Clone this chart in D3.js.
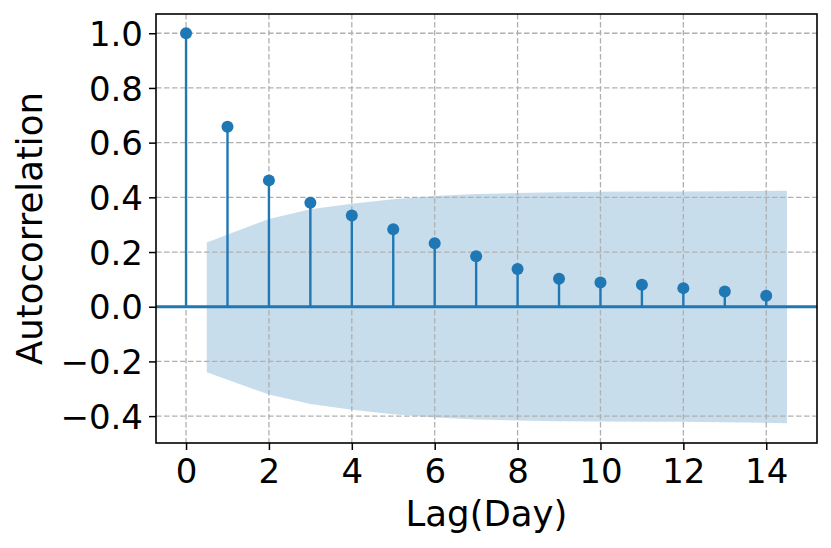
<!DOCTYPE html>
<html>
<head>
<meta charset="utf-8">
<script src="https://cdn.jsdelivr.net/npm/d3@7"></script>
<style>
  html, body { margin: 0; padding: 0; background: #fff; }
  svg { display: block; font-family: "DejaVu Sans", sans-serif; }
</style>
</head>
<body>
<svg id="chart" width="831" height="548"></svg>
<script>
// ---- data ----
const lags = [0, 1, 2, 3, 4, 5, 6, 7, 8, 9, 10, 11, 12, 13, 14];
const acfValues = [1.0, 0.658, 0.462, 0.380, 0.334, 0.283, 0.232, 0.185, 0.138, 0.102, 0.089, 0.080, 0.068, 0.056, 0.040];
// confidence band at band x positions
const bandX = [0.5, 2, 3, 4, 5, 6, 7, 8, 9, 10, 11, 12, 13, 14.5];
const bandUpper = [0.235, 0.321, 0.356, 0.377, 0.393, 0.405, 0.412, 0.416, 0.419, 0.420, 0.421, 0.421, 0.422, 0.424];
const bandLower = [-0.240, -0.321, -0.356, -0.377, -0.393, -0.405, -0.412, -0.416, -0.419, -0.420, -0.421, -0.421, -0.422, -0.426];
const xTicks = [0, 2, 4, 6, 8, 10, 12, 14];
const yTicks = [-0.4, -0.2, 0.0, 0.2, 0.4, 0.6, 0.8, 1.0];
const xLabel = "Lag(Day)";
const yLabel = "Autocorrelation";

// ---- layout ----
const svg = d3.select("#chart");
const L = 156, R = 817, T = 14, B = 443;
const x = d3.scaleLinear().domain([-0.725, 15.225]).range([L, R]);
const y = d3.scaleLinear().domain([-0.4983, 1.0704]).range([B, T]);
const blue = "#1f77b4";

// band
const band = bandX.map((d, i) => ({x: d, lo: bandLower[i], hi: bandUpper[i]}));
svg.append("path")
  .datum(band)
  .attr("fill", blue)
  .attr("fill-opacity", 0.25)
  .attr("d", d3.area().x(d => x(d.x)).y0(d => y(d.lo)).y1(d => y(d.hi)));

// grid
const grid = svg.append("g").attr("stroke", "#b0b0b0").attr("stroke-width", 1.3).attr("stroke-dasharray", "5.5,2.5");
grid.selectAll(".gx").data(xTicks).join("line")
  .attr("x1", d => x(d)).attr("x2", d => x(d)).attr("y1", T).attr("y2", B);
grid.selectAll(".gy").data(yTicks).join("line")
  .attr("x1", L).attr("x2", R).attr("y1", d => y(d)).attr("y2", d => y(d));

// stems
const data = lags.map((l, i) => ({l, v: acfValues[i]}));
svg.append("g").selectAll("line").data(data).join("line")
  .attr("x1", d => x(d.l)).attr("x2", d => x(d.l))
  .attr("y1", y(0)).attr("y2", d => y(d.v))
  .attr("stroke", blue).attr("stroke-width", 2.4);

// zero line
svg.append("line")
  .attr("x1", L).attr("x2", R).attr("y1", y(0)).attr("y2", y(0))
  .attr("stroke", blue).attr("stroke-width", 3);

// markers
svg.append("g").selectAll("circle").data(data).join("circle")
  .attr("cx", d => x(d.l)).attr("cy", d => y(d.v)).attr("r", 6)
  .attr("fill", blue);

// axes
const fmt = d => (d < 0 ? "\u2212" : "") + Math.abs(d).toFixed(1);
const xAxis = svg.append("g").attr("transform", `translate(0,${B})`)
  .call(d3.axisBottom(x).tickValues(xTicks).tickSize(7).tickPadding(6).tickFormat(d3.format("d")));
const yAxis = svg.append("g").attr("transform", `translate(${L},0)`)
  .call(d3.axisLeft(y).tickValues(yTicks).tickSize(7).tickPadding(6).tickFormat(fmt));
[xAxis, yAxis].forEach(a => {
  a.select(".domain").remove();
  a.selectAll(".tick line").attr("stroke", "#000").attr("stroke-width", 1.5);
  a.selectAll(".tick text").attr("fill", "#000").style("font-size", "34px").style("font-family", "'DejaVu Sans', sans-serif");
});
xAxis.selectAll(".tick text").attr("y", 40).attr("dy", "0");
yAxis.selectAll(".tick text").attr("dy", "0.36em");

// frame
svg.append("rect").attr("x", L).attr("y", T).attr("width", R - L).attr("height", B - T)
  .attr("fill", "none").attr("stroke", "#000").attr("stroke-width", 1.6);

// labels
svg.append("text").attr("x", (L + R) / 2).attr("y", 526).attr("text-anchor", "middle")
  .style("font-size", "35.5px").attr("fill", "#000").text(xLabel);
svg.append("text").attr("transform", `translate(42,${(T + B) / 2}) rotate(-90)`).attr("text-anchor", "middle")
  .style("font-size", "35.5px").attr("fill", "#000").text(yLabel);
</script>
</body>
</html>
